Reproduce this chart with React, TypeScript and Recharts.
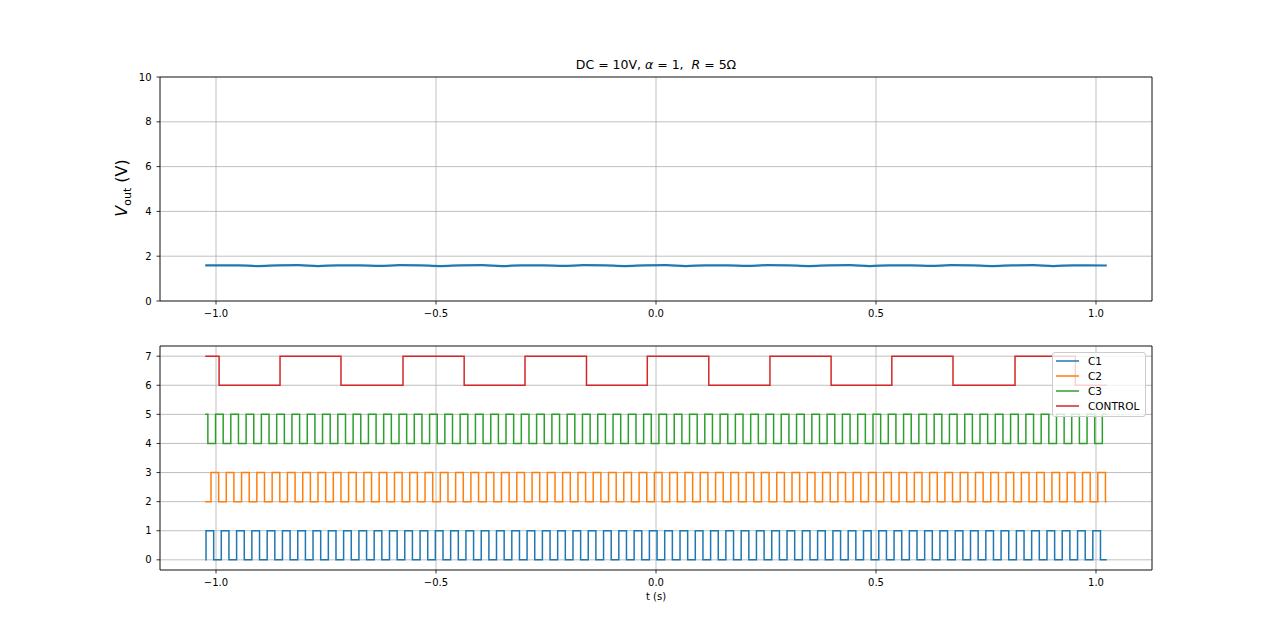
import React from 'react';
import { LineChart, Line, XAxis, YAxis, CartesianGrid, ReferenceArea, Legend } from 'recharts';

const FONT = '"DejaVu Sans", Verdana, sans-serif';

// ---- axes / ticks ----
const X_MIN = -1.1273;
const X_MAX = 1.1273;
const X_TICKS = [-1, -0.5, 0, 0.5, 1];
const TOP_Y_TICKS = [0, 2, 4, 6, 8, 10];
const BOTTOM_Y_TICKS = [0, 1, 2, 3, 4, 5, 6, 7];
const BOTTOM_Y_DOMAIN = [-0.35, 7.35];

// ---- time span of the signals ----
const T_START = -1.0245;
const T_END = 1.0245;

// ---- top panel: output voltage ----
const VOUT_T = [
  -1.0245, -0.95, -0.905, -0.86, -0.813, -0.768, -0.723, -0.673, -0.628, -0.583,
  -0.535, -0.49, -0.445, -0.395, -0.35, -0.305, -0.255, -0.21, -0.165, -0.116,
  -0.071, -0.026, 0.023, 0.068, 0.113, 0.162, 0.207, 0.252, 0.302, 0.347,
  0.392, 0.441, 0.486, 0.531, 0.58, 0.625, 0.67, 0.719, 0.764, 0.809,
  0.858, 0.903, 0.948, 1.0245,
];
const VOUT_V = [
  1.59, 1.59, 1.56, 1.59, 1.6, 1.56, 1.59, 1.59, 1.565, 1.6,
  1.59, 1.56, 1.59, 1.6, 1.56, 1.59, 1.59, 1.565, 1.6, 1.59,
  1.56, 1.59, 1.6, 1.56, 1.59, 1.59, 1.565, 1.6, 1.59, 1.56,
  1.59, 1.6, 1.56, 1.59, 1.59, 1.565, 1.6, 1.59, 1.56, 1.59,
  1.6, 1.56, 1.59, 1.585,
];

// ---- bottom panel: switching signals (rising edge times) ----
const PULSE_WIDTH = 0.0174;
const C1_RISES = [
  -1.0227, -0.988, -0.9532, -0.9185, -0.8837, -0.849, -0.8142, -0.7795, -0.7447, -0.71,
  -0.6752, -0.6405, -0.6057, -0.571, -0.5362, -0.5015, -0.4667, -0.432, -0.3972, -0.3625,
  -0.3277, -0.293, -0.2582, -0.2235, -0.1887, -0.154, -0.1192, -0.0845, -0.0497, -0.015,
  0.0198, 0.0546, 0.0893, 0.1241, 0.1588, 0.1936, 0.2283, 0.2631, 0.2978, 0.3326,
  0.3673, 0.4021, 0.4368, 0.4716, 0.5063, 0.5411, 0.5758, 0.6106, 0.6453, 0.6801,
  0.7148, 0.7496, 0.7843, 0.8191, 0.8538, 0.8886, 0.9233, 0.9581, 0.9928,
];
const C2_RISES = [
  -1.0114, -0.9767, -0.9419, -0.9072, -0.8724, -0.8377, -0.8029, -0.7682, -0.7334, -0.6987,
  -0.6639, -0.6292, -0.5944, -0.5597, -0.5249, -0.4902, -0.4554, -0.4207, -0.3859, -0.3512,
  -0.3164, -0.2817, -0.2469, -0.2122, -0.1774, -0.1427, -0.1079, -0.0732, -0.0384, -0.0037,
  0.0311, 0.0659, 0.1006, 0.1354, 0.1701, 0.2049, 0.2396, 0.2744, 0.3091, 0.3439,
  0.3786, 0.4134, 0.4481, 0.4829, 0.5176, 0.5524, 0.5871, 0.6219, 0.6566, 0.6914,
  0.7261, 0.7609, 0.7956, 0.8304, 0.8651, 0.8999, 0.9346, 0.9694, 1.0041,
];
const C3_FIRST_FALL = -1.0185;
const C3_RISES = [
  -1.0011, -0.9664, -0.9316, -0.8969, -0.8621, -0.8274, -0.7926, -0.7579, -0.7231, -0.6884,
  -0.6536, -0.6189, -0.5841, -0.5494, -0.5146, -0.4799, -0.4451, -0.4104, -0.3756, -0.3409,
  -0.3061, -0.2714, -0.2366, -0.2019, -0.1671, -0.1324, -0.0976, -0.0629, -0.0281, 0.0066,
  0.0414, 0.0762, 0.1109, 0.1457, 0.1804, 0.2152, 0.2499, 0.2847, 0.3194, 0.3542,
  0.3889, 0.4237, 0.4584, 0.4932, 0.5279, 0.5627, 0.5974, 0.6322, 0.6669, 0.7017,
  0.7364, 0.7712, 0.8059, 0.8407, 0.8754, 0.9102, 0.9449, 0.9797, 1.0144,
];
const CONTROL_FALLS = [-0.993, -0.716, -0.436, -0.158, 0.12, 0.398, 0.675, 0.953];
const CONTROL_RISES = [-0.8545, -0.575, -0.2977, -0.0198, 0.259, 0.536, 0.816];

const SERIES_NAMES = ['C1', 'C2', 'C3', 'CONTROL'];
const SERIES_COLORS = ['#1f77b4', '#ff7f0e', '#2ca02c', '#d62728'];
const SERIES_LOW = [0, 2, 4, 6];

type Pt = { t: number; v: number };

function carrierSteps(low: number, rises: number[], startHigh: boolean, firstFall?: number): Pt[] {
  const high = low + 1;
  const pts: Pt[] = [{ t: T_START, v: startHigh ? high : low }];
  if (firstFall !== undefined) pts.push({ t: firstFall, v: low });
  for (const r of rises) {
    pts.push({ t: r, v: high });
    const f = r + PULSE_WIDTH;
    if (f < T_END) pts.push({ t: f, v: low });
  }
  pts.push({ t: T_END, v: pts[pts.length - 1].v });
  return pts;
}

function controlSteps(low: number): Pt[] {
  const high = low + 1;
  const edges = [
    ...CONTROL_FALLS.map((t) => ({ t, v: low })),
    ...CONTROL_RISES.map((t) => ({ t, v: high })),
  ].sort((a, b) => a.t - b.t);
  const pts: Pt[] = [{ t: T_START, v: high }, ...edges];
  pts.push({ t: T_END, v: pts[pts.length - 1].v });
  return pts;
}

const VOUT_DATA: Pt[] = VOUT_T.map((t, i) => ({ t, v: VOUT_V[i] }));
const SERIES_DATA: Pt[][] = [
  carrierSteps(SERIES_LOW[0], C1_RISES, false),
  carrierSteps(SERIES_LOW[1], C2_RISES, false),
  carrierSteps(SERIES_LOW[2], C3_RISES, true, C3_FIRST_FALL),
  controlSteps(SERIES_LOW[3]),
];

const fmtX = (v: number) => (Math.abs(v) < 1e-9 ? '0.0' : (v < 0 ? '\u2212' : '') + Math.abs(v).toFixed(1));
const tickStyle = { fill: '#000', fontSize: 10, fontFamily: FONT };
const tickLineStyle = { stroke: '#000', strokeWidth: 0.8 };

const YLabelTop = () => (
  <text transform="translate(127, 188) rotate(-90)" x={0} y={0} textAnchor="middle" fontFamily={FONT} fontSize={16} fill="#000">
    <tspan fontStyle="italic">V</tspan>
    <tspan fontSize={11} dy={4}>out</tspan>
    <tspan dy={-4}>{' (V)'}</tspan>
  </text>
);

const XLabelBottom = () => (
  <text x={656} y={280} textAnchor="middle" fontFamily={FONT} fontSize={10} fill="#000">
    t (s)
  </text>
);

const LegendBox = () => (
  <div
    style={{
      boxSizing: 'border-box',
      width: 94,
      height: 65,
      border: '1px solid #cccccc',
      borderRadius: 3,
      background: 'rgba(255,255,255,0.8)',
      padding: '0 0 0 3px',
      fontFamily: FONT,
      fontSize: 10.5,
      color: '#000',
    }}
  >
    {SERIES_NAMES.map((n, i) => (
      <div key={n} style={{ display: 'flex', alignItems: 'center', height: 15.2 }}>
        <svg width={23} height={4} style={{ marginRight: 9, display: 'block' }}>
          <line x1={0} y1={2} x2={23} y2={2} stroke={SERIES_COLORS[i]} strokeWidth={1.5} />
        </svg>
        <span style={{ lineHeight: '12px' }}>{n}</span>
      </div>
    ))}
  </div>
);

export default function App() {
  return (
    <div style={{ position: 'absolute', left: 0, top: 0, width: 1280, height: 640, overflow: 'hidden', background: '#fff' }}>
      <div
        style={{
          position: 'absolute',
          left: 160,
          width: 992,
          top: 57,
          textAlign: 'center',
          fontFamily: FONT,
          fontSize: 12.5,
          lineHeight: '16px',
          whiteSpace: 'pre',
          color: '#000',
        }}
      >
        {'DC = 10V, '}
        <i>α</i>
        {' = 1,  '}
        <i>R</i>
        {' = 5Ω'}
      </div>

      <div style={{ position: 'absolute', left: 0, top: 0 }}>
        <LineChart width={1280} height={340} margin={{ top: 77, right: 128, bottom: 9, left: 100 }}>
          <CartesianGrid stroke="#b0b0b0" strokeWidth={0.8} />
          <XAxis
            type="number"
            dataKey="t"
            domain={[X_MIN, X_MAX]}
            allowDataOverflow
            ticks={X_TICKS}
            interval={0}
            tickFormatter={fmtX}
            tick={tickStyle}
            tickLine={tickLineStyle}
            tickSize={3.5}
            tickMargin={5}
            axisLine={false}
            height={30}
          />
          <YAxis
            type="number"
            domain={[0, 10]}
            allowDataOverflow
            ticks={TOP_Y_TICKS}
            interval={0}
            tick={tickStyle}
            tickLine={tickLineStyle}
            tickSize={3.5}
            tickMargin={5}
            axisLine={false}
            width={60}
            label={{ content: () => <YLabelTop /> }}
          />
          <ReferenceArea x1={X_MIN} x2={X_MAX} y1={0} y2={10} fill="none" fillOpacity={0} stroke="#000" strokeWidth={0.8} ifOverflow="visible" />
          <Line
            data={VOUT_DATA}
            dataKey="v"
            type="monotone"
            stroke="#1f77b4"
            strokeWidth={2.2}
            dot={false}
            activeDot={false}
            isAnimationActive={false}
          />
        </LineChart>
      </div>

      <div style={{ position: 'absolute', left: 0, top: 320 }}>
        <LineChart width={1280} height={320} margin={{ top: 26, right: 128, bottom: 30, left: 100 }}>
          <CartesianGrid stroke="#b0b0b0" strokeWidth={0.8} />
          <XAxis
            type="number"
            dataKey="t"
            domain={[X_MIN, X_MAX]}
            allowDataOverflow
            ticks={X_TICKS}
            interval={0}
            tickFormatter={fmtX}
            tick={tickStyle}
            tickLine={tickLineStyle}
            tickSize={3.5}
            tickMargin={5}
            axisLine={false}
            height={40}
            label={{ content: () => <XLabelBottom /> }}
          />
          <YAxis
            type="number"
            domain={BOTTOM_Y_DOMAIN}
            allowDataOverflow
            ticks={BOTTOM_Y_TICKS}
            interval={0}
            tick={tickStyle}
            tickLine={tickLineStyle}
            tickSize={3.5}
            tickMargin={5}
            axisLine={false}
            width={60}
          />
          <ReferenceArea
            x1={X_MIN}
            x2={X_MAX}
            y1={BOTTOM_Y_DOMAIN[0]}
            y2={BOTTOM_Y_DOMAIN[1]}
            fill="none"
            fillOpacity={0}
            stroke="#000"
            strokeWidth={0.8}
            ifOverflow="visible"
          />
          {SERIES_DATA.map((d, i) => (
            <Line
              key={SERIES_NAMES[i]}
              name={SERIES_NAMES[i]}
              data={d}
              dataKey="v"
              type="stepAfter"
              stroke={SERIES_COLORS[i]}
              strokeWidth={1.5}
              dot={false}
              activeDot={false}
              isAnimationActive={false}
            />
          ))}
          <Legend
            layout="horizontal"
            verticalAlign="middle"
            align="center"
            content={() => <LegendBox />}
            wrapperStyle={{ left: 1052, top: 32, width: 94, height: 65 }}
          />
        </LineChart>
      </div>
    </div>
  );
}
